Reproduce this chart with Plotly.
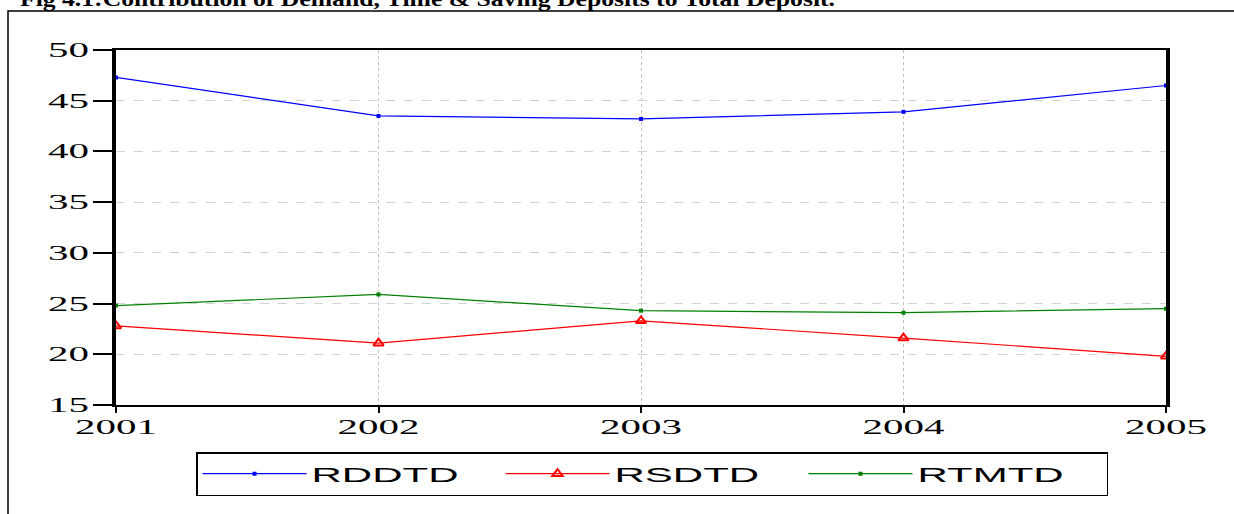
import plotly.graph_objects as go

years = [2001, 2002, 2003, 2004, 2005]
rddtd = [47.3, 43.5, 43.2, 43.9, 46.5]
rsdtd = [22.8, 21.1, 23.3, 21.6, 19.8]
rtmtd = [24.8, 25.9, 24.3, 24.1, 24.5]
y_ticks = [15, 20, 25, 30, 35, 40, 45, 50]
x_ticks = [2001, 2002, 2003, 2004, 2005]
title_text = "Fig 4.1:Contribution of Demand, Time & Saving Deposits to Total Deposit."

W, H = 1234, 514
L, R, T, B = 116, 1166, 50, 405
pw, ph = R - L, B - T

def px(x):
    return (x - L) / pw

def py(y):
    return (B - y) / ph

fig = go.Figure()
fig.add_trace(go.Scatter(x=years, y=rddtd, name="RDDTD", mode="lines+markers",
                         line=dict(color="#0000ff", width=1.2),
                         marker=dict(symbol="square", size=4, color="#0000ff")))
fig.add_trace(go.Scatter(x=years, y=rsdtd, name="RSDTD", mode="lines+markers",
                         line=dict(color="#ff0000", width=1.2),
                         marker=dict(symbol="triangle-up-open", size=9, color="#ff0000",
                                     line=dict(width=2, color="#ff0000"))))
fig.add_trace(go.Scatter(x=years, y=rtmtd, name="RTMTD", mode="lines+markers",
                         line=dict(color="#008000", width=1.2),
                         marker=dict(symbol="square", size=4, color="#008000")))

fig.update_layout(
    width=W, height=H,
    margin=dict(l=L, r=W - R, t=T, b=H - B, autoexpand=False),
    paper_bgcolor="white", plot_bgcolor="white",
    showlegend=True,
    legend=dict(orientation="h", x=px(196), y=py(452), xanchor="left", yanchor="top",
                bordercolor="black", borderwidth=1.5, bgcolor="white",
                font=dict(family="Liberation Sans", size=21, color="black"),
                itemwidth=104, entrywidth=184, entrywidthmode="pixels",
                itemclick=False, tracegroupgap=0),
    xaxis=dict(range=[2001, 2005], tickvals=x_ticks, ticktext=[str(v) for v in x_ticks],
               showline=True, linecolor="black", linewidth=2, mirror=True,
               ticks="outside", ticklen=6, tickwidth=2, tickcolor="black",
               ticklabelstandoff=-4,
               showgrid=True, gridcolor="#c0c0c0", griddash="dot", gridwidth=1,
               zeroline=False,
               tickfont=dict(family="Liberation Serif", size=21, color="black")),
    yaxis=dict(range=[15, 50], tickvals=y_ticks, ticktext=[str(v) for v in y_ticks],
               showline=True, linecolor="black", linewidth=4, mirror=True,
               ticks="outside", ticklen=19, tickwidth=1.5, tickcolor="black",
               showgrid=True, gridcolor="#d3d3d3", griddash="dash", gridwidth=1,
               zeroline=False,
               tickfont=dict(family="Liberation Serif", size=20, color="black")),
    shapes=[dict(type="rect", xref="paper", yref="paper",
                 x0=px(8), x1=px(1245), y0=py(530), y1=py(11),
                 line=dict(color="black", width=1.5), layer="below")],
    annotations=[dict(text=title_text.replace("&", "&amp;"),
                      xref="paper", yref="paper", x=px(20 + 815 / 2), y=py(13),
                      xanchor="center", yanchor="bottom", showarrow=False,
                      font=dict(family="Liberation Serif", size=22, color="black",
                                weight="bold"))],
)

post = """
(function(){
  var st = document.createElement('style');
  st.innerHTML = 'html, body { margin: 0; padding: 0; }';
  document.head.appendChild(st);
  function stretch(sel, f) {
    document.querySelectorAll(sel).forEach(function(t) {
      var w = t.getComputedTextLength();
      t.setAttribute('textLength', w * f);
      t.setAttribute('lengthAdjust', 'spacingAndGlyphs');
    });
  }
  stretch('.xtick text', 1.95);
  stretch('.ytick text', 2.05);
  stretch('.legendtext', 2.0);
  document.querySelectorAll('.annotation-text').forEach(function(t) {
    t.setAttribute('textLength', 815);
    t.setAttribute('lengthAdjust', 'spacingAndGlyphs');
  });
})();
"""
fig.write_html("out.html", post_script=post, config={"displayModeBar": False})
